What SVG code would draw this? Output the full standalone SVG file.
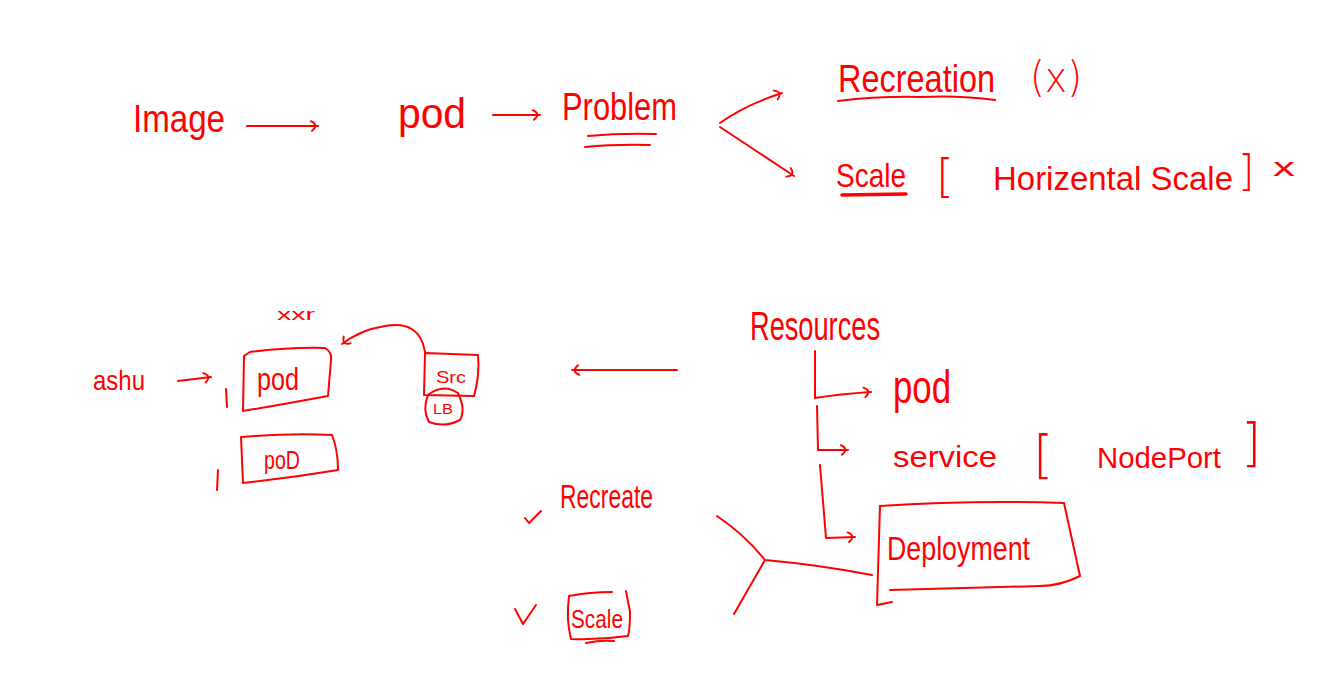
<svg xmlns="http://www.w3.org/2000/svg" width="1335" height="690" viewBox="0 0 1335 690">
<style>
text{font-family:"Liberation Sans",Arial,sans-serif;fill:#ff0000;}
.s{fill:none;stroke:#ff0000;stroke-width:2;stroke-linecap:round;stroke-linejoin:round;}
.t{stroke-width:3.5;}
.b{font-family:"DejaVu Sans","Liberation Sans",sans-serif;font-weight:200;}
</style>
<defs>
<marker id="hook" viewBox="0 0 10 10" refX="8" refY="5" markerWidth="12" markerHeight="12" markerUnits="userSpaceOnUse" orient="auto">
<path d="M2,1 Q9,4 3,9" fill="none" stroke="#ff0000" stroke-width="1.6" stroke-linecap="round"/>
</marker>
</defs>
<rect width="1335" height="690" fill="#ffffff"/>

<g id="image"><text x="133" y="132" font-size="38" textLength="92" lengthAdjust="spacingAndGlyphs">Image</text></g>
<g id="pod-top"><text x="398" y="128" font-size="42" textLength="68" lengthAdjust="spacingAndGlyphs">pod</text></g>
<g id="problem">
<text x="562" y="120" font-size="38" textLength="115" lengthAdjust="spacingAndGlyphs">Problem</text>
<path class="s" d="M588,136 Q620,133 656,134 M585,147 Q615,144 650,145"/>
</g>
<g id="recreation">
<text x="838" y="92" font-size="38" textLength="157" lengthAdjust="spacingAndGlyphs">Recreation</text>
<path class="s" d="M838,101 Q880,96 920,97 Q960,95 995,100"/>
<text class="b" x="1030" y="92" font-size="42" textLength="52" lengthAdjust="spacingAndGlyphs">(x)</text>
</g>
<g id="scale-top">
<text x="836" y="187" font-size="34" textLength="70" lengthAdjust="spacingAndGlyphs">Scale</text>
<path class="s t" d="M842,195 L906,194"/>
<text class="b" x="936" y="192" font-size="46">[</text>
<text x="993" y="190" font-size="34" textLength="240" lengthAdjust="spacingAndGlyphs">Horizental Scale</text>
<text class="b" x="1238" y="186" font-size="42">]</text>
<text x="1273" y="176" font-size="26" textLength="22" lengthAdjust="spacingAndGlyphs">x</text>
</g>

<g id="pod-box-1">
<text x="277" y="320" font-size="16" textLength="38" lengthAdjust="spacingAndGlyphs">xxr</text>
<path class="s" d="M250,352 Q290,347 325,348 Q332,352 331,360 L328,396 Q285,404 243,411 L244,356 Z"/>
<text x="257" y="390" font-size="32" textLength="42" lengthAdjust="spacingAndGlyphs">pod</text>
</g>
<g id="pod-box-2">
<path class="s" d="M241,437 Q290,433 332,435 Q338,450 338,470 Q290,478 243,483 Z"/>
<text x="264" y="469" font-size="26" textLength="36" lengthAdjust="spacingAndGlyphs">poD</text>
</g>
<g id="ashu"><text x="93" y="390" font-size="28" textLength="52" lengthAdjust="spacingAndGlyphs">ashu</text></g>
<g id="marks" class="s"><path d="M226,389 L227,407 M218,470 L217,490"/></g>
<g id="src">
<path class="s" d="M425,353 L478,355 Q480,375 474,396 L424,395 Z"/>
<text x="436" y="383" font-size="17" textLength="30" lengthAdjust="spacingAndGlyphs">Src</text>
<path class="s" d="M429,422 Q422,410 428,395 Q443,383 458,393 Q466,410 460,420 Q445,428 429,422"/>
<text x="433" y="414" font-size="14" textLength="20" lengthAdjust="spacingAndGlyphs">LB</text>
</g>

<g id="resources"><text x="750" y="340" font-size="40" textLength="130" lengthAdjust="spacingAndGlyphs">Resources</text></g>
<g id="pod-res"><text x="893" y="403" font-size="46" textLength="58" lengthAdjust="spacingAndGlyphs">pod</text></g>
<g id="service">
<text x="893" y="467" font-size="30" textLength="104" lengthAdjust="spacingAndGlyphs">service</text>
<text class="b" x="1033" y="472" font-size="52">[</text>
<text x="1097" y="468" font-size="30" textLength="124" lengthAdjust="spacingAndGlyphs">NodePort</text>
<text class="b" x="1241" y="460" font-size="52">]</text>
</g>
<g id="deployment">
<path class="s" d="M880,506 Q970,500 1064,503 L1080,576 Q1060,586 1040,586 Q960,588 890,590"/>
<path class="s" d="M880,506 L877,605 L892,602"/>
<text x="887" y="560" font-size="34" textLength="143" lengthAdjust="spacingAndGlyphs">Deployment</text>
</g>
<g id="recreate">
<text x="560" y="508" font-size="34" textLength="93" lengthAdjust="spacingAndGlyphs">Recreate</text>
<path class="s" d="M525,518 L529,523 L541,511"/>
</g>
<g id="scale-box">
<path class="s" d="M569,596 Q590,592 612,592 M626,591 L630,612 Q630,630 628,636 Q600,640 571,639 Q566,620 569,596"/>
<path class="s" d="M586,643 Q600,640 614,641"/>
<text x="571" y="628" font-size="26" textLength="52" lengthAdjust="spacingAndGlyphs">Scale</text>
<path class="s" d="M515,609 L523,624 L536,605"/>
</g>

<g id="connectors" class="s">
<path d="M247,126 L318,126" marker-end="url(#hook)"/>
<path d="M493,115 L540,115" marker-end="url(#hook)"/>
<path d="M720,123 Q745,105 782,93" marker-end="url(#hook)"/>
<path d="M720,127 Q755,150 794,176" marker-end="url(#hook)"/>
<path d="M178,381 L211,377" marker-end="url(#hook)"/>
<path d="M425,352 Q420,320 385,326 Q360,330 342,344" marker-end="url(#hook)"/>
<path d="M677,370 L572,370" marker-end="url(#hook)"/>
<path d="M815,351 L815,398 Q840,394 871,392" marker-end="url(#hook)"/>
<path d="M817,406 L818,450 L848,450" marker-end="url(#hook)"/>
<path d="M820,465 L826,538 L855,537" marker-end="url(#hook)"/>
<path d="M717,516 Q745,535 765,560 L734,614 M765,560 Q820,565 872,575"/>
</g>
</svg>
